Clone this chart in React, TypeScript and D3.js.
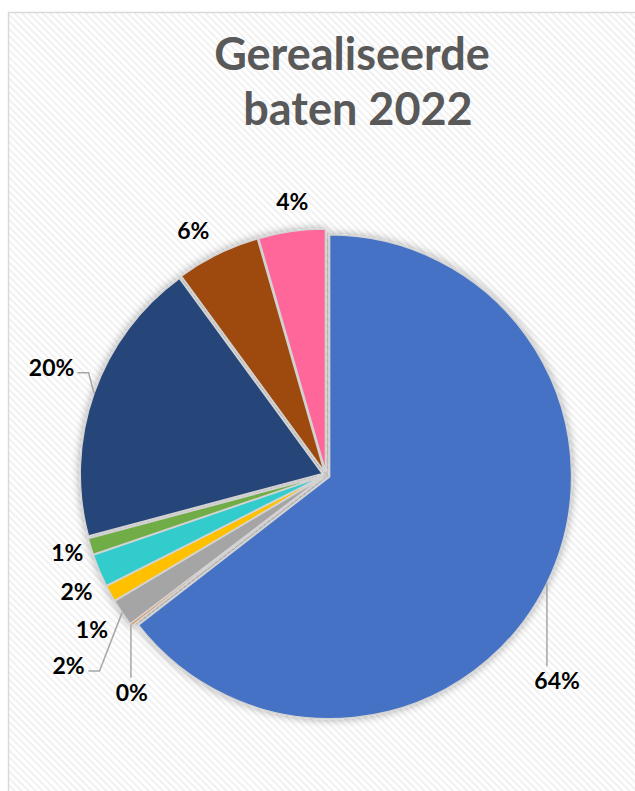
import React from 'react';
import * as d3 from 'd3';

// slices clockwise from 12 o'clock
const categories = ['Post 1', 'Post 2', 'Post 3', 'Post 4', 'Post 5', 'Post 6', 'Post 7', 'Post 8', 'Post 9'];
const values = [64.5, 0.15, 1.8, 1.1, 2.2, 1.1, 19.1, 5.6, 4.45];
const valueLabels = ['64%', '0%', '2%', '1%', '2%', '1%', '20%', '6%', '4%'];
const colors = ['#4472C4', '#ED7D31', '#A5A5A5', '#FFC000', '#33CCCC', '#70AD47', '#264478', '#9E480E', '#FF6699'];

// where Excel put each label: angle shift from slice middle (deg), distance from centre, leader line
const labelLayout = [
  { da: 15.5, r: 309, leader: true },
  { da: -10.6, r: 291, leader: true },
  { da: -2.4, r: 320, leader: true },
  { da: -4.5, r: 280, leader: false },
  { da: -2.0, r: 275, leader: false },
  { da: 0.3, r: 270, leader: false },
  { da: 2.1, r: 295, leader: true },
  { da: -2.3, r: 279, leader: false },
  { da: 1.0, r: 276, leader: false },
];

const App = () => {
  const Width = 635;
  const Height = 791;
  const cx = 326;
  const cy = 475;
  const R = 242;
  const explode = 4;

  const pie = d3.pie<number>().sort(null).value((d) => d)(values);
  const arc = d3.arc<d3.PieArcDatum<number>>().innerRadius(0).outerRadius(R);

  const slices = pie.map((p, i) => {
    const mid = (p.startAngle + p.endAngle) / 2;
    const ox = cx + explode * Math.sin(mid);
    const oy = cy - explode * Math.cos(mid);
    return (
      <path
        key={categories[i]}
        d={arc(p) || ''}
        transform={`translate(${ox},${oy})`}
        fill={colors[i]}
        stroke="#d3d3d3"
        strokeWidth={1.5}
      />
    );
  });

  const labels = pie.map((p, i) => {
    const mid = (p.startAngle + p.endAngle) / 2;
    const lay = labelLayout[i];
    const a = mid + (lay.da * Math.PI) / 180;
    const lx = cx + lay.r * Math.sin(a);
    const ly = cy - lay.r * Math.cos(a);
    const px = cx + (explode + R) * Math.sin(mid);
    const py = cy - (explode + R) * Math.cos(mid);
    const hw = (valueLabels[i].length - 1) * 6 + 9;
    let line = null;
    if (lay.leader) {
      let pts: [number, number][];
      if (Math.abs(ly - py) > Math.abs(lx - px) * 1.5) {
        const ex = Math.max(lx - hw, Math.min(lx + hw, px));
        pts = [[px, py], [ex, ly - 14]];
      } else {
        const side = px > lx ? 1 : -1;
        const e1x = lx + side * (hw + 5);
        pts = [[px, py], [e1x + side * 11, ly + 6], [e1x, ly + 6]];
      }
      line = <path d={d3.line()(pts) || ''} fill="none" stroke="#a6a6a6" strokeWidth={1.5} />;
    }
    return (
      <g key={categories[i]}>
        {line}
        <text
          x={lx}
          y={ly}
          textAnchor="middle"
          dominantBaseline="central"
          style={{ fontFamily: 'Lato, sans-serif', fontWeight: 700, fontSize: '23px' }}
          fill="#000"
        >
          {valueLabels[i]}
        </text>
      </g>
    );
  });

  return (
    <div style={{ position: 'absolute', left: 0, top: 0 }}>
      <svg width={Width} height={Height} style={{ display: 'block' }}>
        <defs>
          <pattern id="stripes" width={5} height={5} patternUnits="userSpaceOnUse" patternTransform="rotate(-45)">
            <rect width={5} height={5} fill="#ffffff" />
            <rect width={2} height={5} fill="#f1f1f1" />
          </pattern>
          <filter id="shadow" x="-20%" y="-20%" width="140%" height="140%">
            <feDropShadow dx={0} dy={0} stdDeviation={4} floodColor="#000" floodOpacity={0.35} />
          </filter>
        </defs>
        <rect x={0} y={0} width={Width} height={Height} fill="#fff" />
        <rect x={8.5} y={12.5} width={Width + 20} height={Height + 20} fill="url(#stripes)" stroke="#d9d9d9" strokeWidth={1.5} />
        <g style={{ fontFamily: 'Lato, sans-serif', fontWeight: 700, fontSize: '45px' }} fill="#595959" textAnchor="middle">
          <text x={352} y={70}>Gerealiseerde</text>
          <text x={358} y={125}>baten 2022</text>
        </g>
        <g filter="url(#shadow)">{slices}</g>
        <g>{labels}</g>
      </svg>
    </div>
  );
};

export default App;
